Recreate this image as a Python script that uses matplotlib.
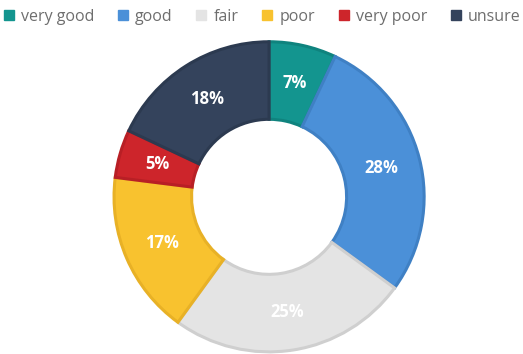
import matplotlib
matplotlib.use("Agg")
import matplotlib.pyplot as plt
from matplotlib.lines import Line2D
import numpy as np

categories = ["very good", "good", "fair", "poor", "very poor", "unsure"]
shares = [7, 28, 25, 17, 5, 18]
labels = ["7%", "28%", "25%", "17%", "5%", "18%"]

fills = ["#13958f", "#4b90d8", "#e4e4e4", "#f8c22f", "#cd252b", "#34435c"]
edges = ["#0f837e", "#3f80c4", "#cfcfcf", "#e8b126", "#b81f25", "#2c3a50"]

plt.rcParams["font.family"] = ["Open Sans", "DejaVu Sans"]

fig = plt.figure(figsize=(5.23, 3.54), dpi=100)
ax = fig.add_axes([0.218, 0.006, 0.593, 0.876])

wedges, _ = ax.pie(
    shares,
    colors=fills,
    startangle=90,
    counterclock=False,
    radius=1.0,
    wedgeprops=dict(width=0.5, linewidth=2.2),
)
for w, ec in zip(wedges, edges):
    w.set_edgecolor(ec)

# percentage labels centred in the ring
theta0 = 90.0
total = sum(shares)
for v, lab in zip(shares, labels):
    mid = np.deg2rad(theta0 - v / total * 360 / 2)
    r = 0.75
    ax.text(r * np.cos(mid), r * np.sin(mid), lab, ha="center", va="center",
            color="white", fontsize=12, fontweight="bold")
    theta0 -= v / total * 360
ax.set_aspect("equal")
ax.set_xlim(-1.0, 1.0)
ax.set_ylim(-1.0, 1.0)

handles = [Line2D([], [], marker="s", linestyle="none", markersize=7,
                  markerfacecolor=c, markeredgecolor=c) for c in fills]
fig.legend(handles, categories, loc="upper center", bbox_to_anchor=(0.5, 1.015),
           ncol=6, frameon=False, fontsize=11.5, handlelength=0.8,
           handletextpad=0.35, columnspacing=1.4, labelcolor="#6e6e6e")

fig.savefig("out.png", dpi=100, facecolor="white")
